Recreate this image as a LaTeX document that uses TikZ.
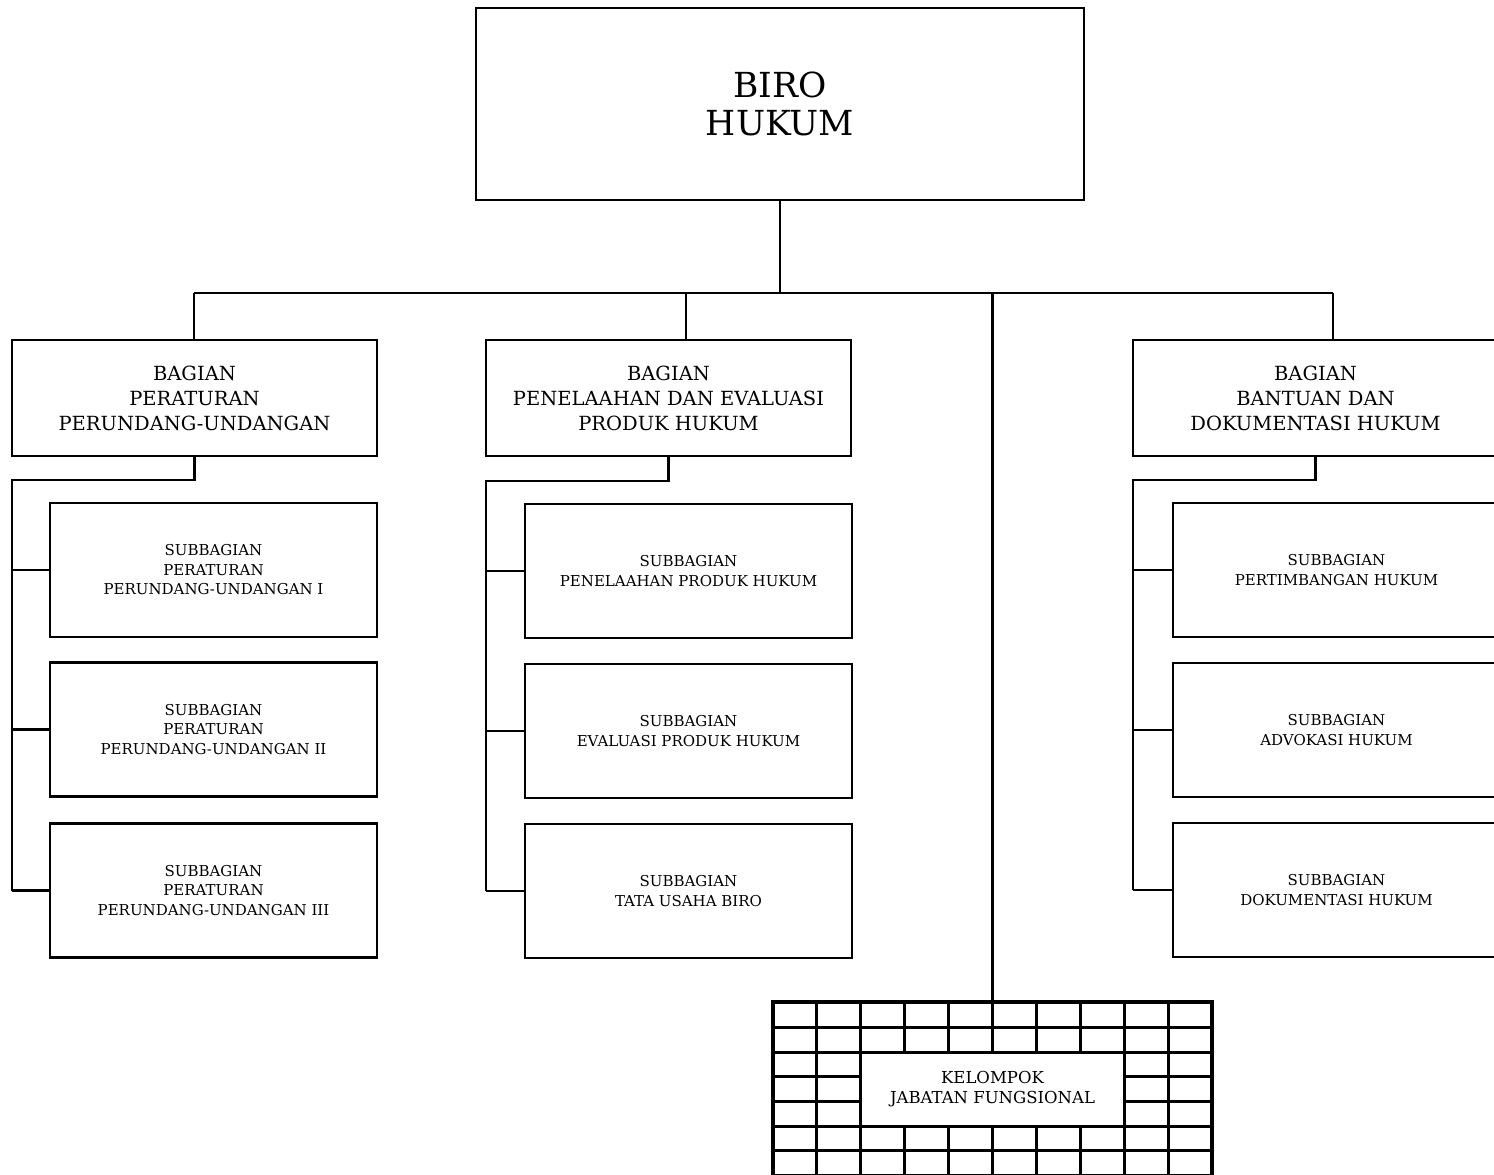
\documentclass[tikz,border=0pt]{standalone}
\usepackage{fontspec}
\setmainfont{DejaVu Serif}
\begin{document}
\begin{tikzpicture}[x=1pt,y=-1pt,
  conn/.style={line width=2.2pt},
  topbox/.style={draw, line width=2pt, inner sep=0pt, align=center,
    minimum width=608pt, minimum height=192pt,
    font=\fontsize{34.5}{38}\selectfont},
  bagian/.style={draw, line width=2.4pt, inner sep=0pt, align=center,
    minimum width=365pt, minimum height=116pt,
    font=\fontsize{19.5}{25}\selectfont},
  subbox/.style={draw, line width=2.4pt, inner sep=0pt, align=center,
    minimum width=327pt, minimum height=134pt,
    font=\fontsize{15}{19.5}\selectfont},
  gridbox/.style={draw, line width=4pt, inner sep=0pt,
    minimum width=439pt, minimum height=174pt},
  inner/.style={draw, fill=white, line width=3pt, inner sep=0pt, align=center,
    minimum width=263.4pt, minimum height=73.8pt,
    font=\fontsize{16.5}{20}\selectfont},
  gridline/.style={line width=3pt}
]
\useasboundingbox (0,0) rectangle (1494,1175);
\fill[white] (0,0) rectangle (1494,1175);
\clip (0,0) rectangle (1494,1175);

% top
\node[topbox] (biro) at (780,104) {BIRO\\HUKUM};

% bagian
\node[bagian] (b1) at (194.5,398) {BAGIAN\\PERATURAN\\PERUNDANG-UNDANGAN};
\node[bagian] (b2) at (668.5,398) {BAGIAN\\PENELAAHAN DAN EVALUASI\\PRODUK HUKUM};
\node[bagian] (b3) at (1315.5,398) {BAGIAN\\BANTUAN DAN\\DOKUMENTASI HUKUM};

% subbagian
\node[subbox] (s11) at (213.5,570) {SUBBAGIAN\\PERATURAN\\PERUNDANG-UNDANGAN I};
\node[subbox] (s12) at (213.5,729.5) {SUBBAGIAN\\PERATURAN\\PERUNDANG-UNDANGAN II};
\node[subbox] (s13) at (213.5,890.5) {SUBBAGIAN\\PERATURAN\\PERUNDANG-UNDANGAN III};
\node[subbox] (s21) at (688.5,571) {SUBBAGIAN\\PENELAAHAN PRODUK HUKUM};
\node[subbox] (s22) at (688.5,731) {SUBBAGIAN\\EVALUASI PRODUK HUKUM};
\node[subbox] (s23) at (688.5,891) {SUBBAGIAN\\TATA USAHA BIRO};
\node[subbox] (s31) at (1336.5,570) {SUBBAGIAN\\PERTIMBANGAN HUKUM};
\node[subbox] (s32) at (1336.5,730) {SUBBAGIAN\\ADVOKASI HUKUM};
\node[subbox] (s33) at (1336.5,890) {SUBBAGIAN\\DOKUMENTASI HUKUM};

% kelompok jabatan fungsional grid
\node[gridbox] (grid) at (992.5,1089) {};
\foreach \i in {1,...,9} {
  \draw[gridline] (773+\i*43.9,1003) -- (773+\i*43.9,1176);
}
\foreach \j in {1,...,6} {
  \draw[gridline] (773,1003+\j*24.6) -- (1212,1003+\j*24.6);
}
\node[gridbox] at (992.5,1089) {};
\node[inner] (kjf) at (992.5,1089.1) {KELOMPOK\\JABATAN FUNGSIONAL};

% connectors
\coordinate (busL) at (194,293);
\coordinate (busR) at (1333,293);
\coordinate (j2) at (686,293);
\draw[conn] (busL) -- (busR);
\draw[conn] (biro.south) -- (biro.south |- busL);
\draw[conn] (busL) -- (busL |- b1.north);
\draw[conn] (j2) -- (j2 |- b2.north);
\draw[conn] (busR) -- (busR |- b3.north);
\draw[conn] (grid.north) -- (grid.north |- busL);

\coordinate (sp1) at (12,480);
\coordinate (sp2) at (486,481);
\coordinate (sp3) at (1133,480);
\draw[conn, line width=2.6pt] (b1.south) |- (sp1) -- (sp1 |- s13.west);
\draw[conn, line width=2.6pt] (b2.south) |- (sp2) -- (sp2 |- s23.west);
\draw[conn, line width=2.6pt] (b3.south) |- (sp3) -- (sp3 |- s33.west);
\foreach \s in {s11,s12,s13} { \draw[conn] (\s.west) -- (\s.west -| sp1); }
\foreach \s in {s21,s22,s23} { \draw[conn] (\s.west) -- (\s.west -| sp2); }
\foreach \s in {s31,s32,s33} { \draw[conn] (\s.west) -- (\s.west -| sp3); }
\end{tikzpicture}
\end{document}
